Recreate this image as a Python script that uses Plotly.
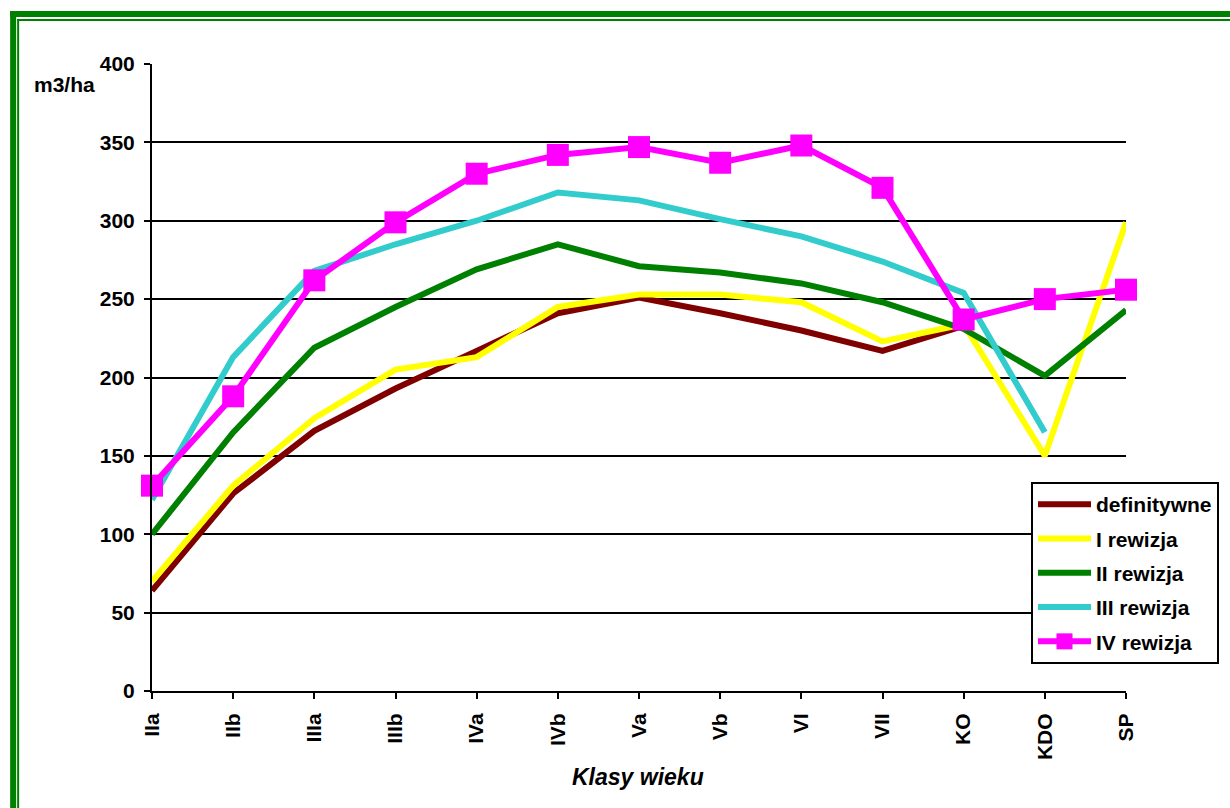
import plotly.graph_objects as go

# Age classes and average volume per revision (m3/ha)
klasy = ["IIa", "IIb", "IIIa", "IIIb", "IVa", "IVb", "Va", "Vb", "VI", "VII", "KO", "KDO", "SP"]

definitywne = [64, 126, 166, 193, 217, 241, 251, 241, 230, 217, 233, None, None]
rewizja_1 = [70, 131, 174, 205, 213, 245, 253, 253, 248, 223, 234, 150, 299]
rewizja_2 = [100, 165, 219, 245, 269, 285, 271, 267, 260, 248, 231, 201, 243]
rewizja_3 = [122, 213, 268, 285, 300, 318, 313, 301, 290, 274, 254, 165, None]
rewizja_4 = [131, 188, 262, 299, 330, 342, 347, 337, 348, 321, 237, 250, 256]

y_ticks = [0, 50, 100, 150, 200, 250, 300, 350, 400]

FONT = "Liberation Sans, Arial, sans-serif"
W, H = 1230, 808
L, R, T, B = 152, 103, 64, 117
PW, PH = W - L - R, H - T - B


def px(x):
    return (x - L) / PW


def py(y):
    return (H - B - y) / PH


xs = list(range(len(klasy)))

series = [
    ("definitywne", definitywne, "#800000", False),
    ("I rewizja", rewizja_1, "#FFFF00", False),
    ("II rewizja", rewizja_2, "#008000", False),
    ("III rewizja", rewizja_3, "#33CCCC", False),
    ("IV rewizja", rewizja_4, "#FF00FF", True),
]

fig = go.Figure()
for name, vals, color, markers in series:
    fig.add_trace(go.Scatter(
        x=xs, y=vals, name=name, legendgroup=name,
        mode="lines+markers" if markers else "lines",
        line=dict(color=color, width=6),
        marker=dict(symbol="square", size=22, color=color) if markers else None,
        cliponaxis=False,
        connectgaps=False,
    ))

# double green frame around the page
GREEN = "#008000"
shapes = [
    dict(type="rect", x0=px(10), x1=px(W + 5), y0=py(11), y1=py(17)),
    dict(type="rect", x0=px(10), x1=px(16), y0=py(11), y1=py(H + 5)),
    dict(type="rect", x0=px(17), x1=px(W + 5), y0=py(19), y1=py(21)),
    dict(type="rect", x0=px(17), x1=px(19), y0=py(19), y1=py(H + 5)),
]
for s in shapes:
    s.update(xref="paper", yref="paper", fillcolor=GREEN, line=dict(width=0), layer="above")

fig.update_layout(
    width=W, height=H,
    margin=dict(l=L, r=R, t=T, b=B),
    paper_bgcolor="white", plot_bgcolor="white",
    font=dict(family=FONT, size=21, color="black", weight="bold"),
    showlegend=True,
    legend=dict(
        x=px(1031), y=py(482), xanchor="left", yanchor="top",
        bgcolor="white", bordercolor="black", borderwidth=2,
        font=dict(family=FONT, size=21, color="black", weight="bold"),
        itemwidth=53, tracegroupgap=4,
    ),
    shapes=shapes,
    annotations=[
        dict(text="m3/ha", xref="paper", yref="paper", x=px(32), y=py(84),
             xanchor="left", yanchor="middle", showarrow=False,
             font=dict(family=FONT, size=21, color="black", weight="bold")),
        dict(text="Klasy wieku", xref="paper", yref="paper", x=px(638), y=py(777),
             xanchor="center", yanchor="middle", showarrow=False,
             font=dict(family=FONT, size=23, color="black", weight="bold", style="italic")),
    ],
)

fig.update_xaxes(
    range=[0, len(klasy) - 1],
    tickmode="array", tickvals=xs, ticktext=klasy,
    tickangle=-90,
    ticks="outside", ticklen=6, tickwidth=2, tickcolor="black",
    showline=True, linecolor="black", linewidth=2,
    showgrid=False, zeroline=False,
    ticklabelstandoff=6,
)
fig.update_yaxes(
    range=[0, 400],
    tickmode="array", tickvals=y_ticks,
    ticks="outside", ticklen=6, tickwidth=2, tickcolor="black",
    showline=True, linecolor="black", linewidth=2,
    showgrid=True, gridcolor="black", gridwidth=2,
    zeroline=False,
    ticklabelstandoff=5,
)

fig.write_html("out.html")
